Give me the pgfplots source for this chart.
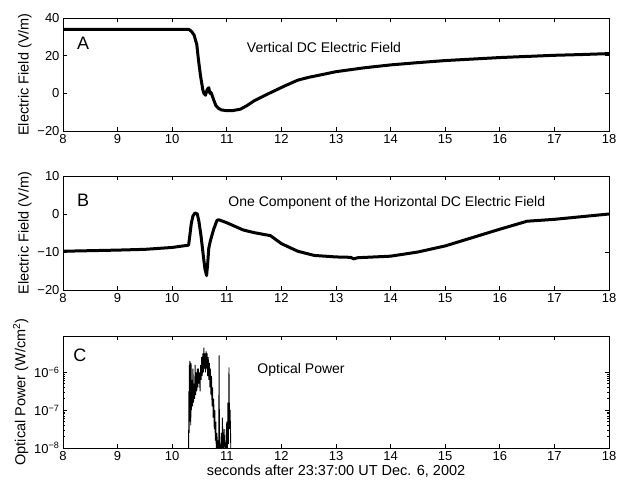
\documentclass[border=0pt]{standalone}
\usepackage{pgfplots}
\pgfplotsset{compat=1.18}
\usepackage{fontspec}
\setmainfont{Liberation Sans}
\begin{document}
\begin{tikzpicture}
\path[use as bounding box] (0pt,0pt) rectangle (617pt,-483pt);
\pgfplotsset{
  panel/.style={
    scale only axis, width=546pt,
    xmin=8, xmax=18, xtick={8,...,18},
    tick align=inside, tickpos=both,
    major tick length=4pt, minor tick length=2pt,
    tick style={black, line width=0.7pt},
    axis line style={line width=0.9pt},
    ticklabel style={font=\fontsize{13}{13}\selectfont},
    label style={font=\fontsize{14.5}{14.5}\selectfont},
    /pgf/number format/assume math mode=true,
    clip=true,
  }
}
% Panel A
\begin{axis}[panel, at={(63pt,-18pt)}, anchor=north west, height=113pt,
  ymin=-20, ymax=40, ytick={-20,0,20,40}, yticklabels={−20,0,20,40},
  ylabel={Electric Field (V/m)}, ylabel style={yshift=-1pt}]
\addplot[black, line width=3pt, line join=round] coordinates {
(8,34)(9,34)(10,34)(10.3,34)(10.35,33)(10.4,31)(10.45,26)(10.48,18)(10.52,9)(10.56,2)(10.58,0)(10.61,-1)(10.64,2)(10.67,3)(10.69,0)(10.71,0.5)(10.73,-1)(10.76,-3.5)(10.8,-6.5)(10.85,-8)(10.9,-8.8)(11.0,-9.2)(11.1,-9.2)(11.25,-8.4)(11.37,-6.5)(11.5,-4)(11.74,-0.5)(12.05,3.8)(12.3,7)(12.5,8.5)(12.72,9.8)(13,11.5)(13.5,13.5)(14,15.1)(14.5,16.3)(15,17.4)(15.5,18.2)(16,19)(16.5,19.6)(17,20.2)(17.5,20.6)(18,21.1)
};
\node[font=\fontsize{18}{18}\selectfont] at (rel axis cs:0.037,0.78) {A};
\node[font=\fontsize{14}{14}\selectfont] at (rel axis cs:0.478,0.735) {Vertical DC Electric Field};
\end{axis}
% Panel B
\begin{axis}[panel, at={(63pt,-176pt)}, anchor=north west, height=114pt,
  ymin=-20, ymax=10, ytick={-20,-10,0,10}, yticklabels={−20,−10,0,10},
  ylabel={Electric Field (V/m)}, ylabel style={yshift=-1pt}]
\addplot[black, line width=3pt, line join=round] coordinates {
(8,-9.8)(9,-9.5)(9.5,-9.3)(10,-8.8)(10.2,-8.4)(10.3,-8.2)(10.32,-6)(10.35,-2.5)(10.38,-0.5)(10.42,0.3)(10.46,0)(10.49,-2)(10.53,-6)(10.57,-11)(10.6,-14.5)(10.63,-16.2)(10.65,-13)(10.67,-9)(10.7,-7)(10.76,-4)(10.82,-1.7)(10.85,-1.5)(11,-2.3)(11.3,-4.2)(11.5,-4.9)(11.8,-5.7)(12,-7.8)(12.3,-9.8)(12.6,-10.9)(13,-11.3)(13.27,-11.4)(13.32,-11.8)(13.4,-11.5)(14,-11.1)(14.5,-10)(15,-8.4)(15.5,-6.2)(16,-4)(16.5,-1.9)(17,-1.4)(17.5,-0.7)(18,0)
};
\node[font=\fontsize{18}{18}\selectfont] at (rel axis cs:0.037,0.79) {B};
\node[font=\fontsize{14}{14}\selectfont] at (rel axis cs:0.593,0.763) {One Component of the Horizontal DC Electric Field};
\end{axis}
% Panel C
\begin{axis}[panel, at={(63pt,-336pt)}, anchor=north west, height=112pt,
  ymode=log, ymin=1e-8, ymax=9.1e-6, ytick={1e-8,1e-7,1e-6},
  yticklabels={10\textsuperscript{−8},10\textsuperscript{−7},10\textsuperscript{−6}},
  ylabel={Optical Power (W/cm\textsuperscript{2})}, ylabel style={yshift=-1pt},
  xlabel={seconds after 23:37:00 UT Dec. 6, 2002}, xlabel style={yshift=3pt}]
\addplot[black, line width=0.9pt] coordinates {
(10.30,5e-9)(10.305,3.16e-7)(10.31,2.51e-8)(10.315,1.58e-6)(10.32,5.01e-8)(10.325,2.0e-6)(10.33,6.31e-8)(10.335,5.01e-7)(10.34,3.98e-8)(10.345,1.78e-6)(10.35,1e-7)(10.36,6.31e-7)(10.37,1.26e-7)(10.38,1.26e-6)(10.39,1.58e-7)(10.40,5.01e-7)(10.41,2.0e-7)(10.42,1.58e-6)(10.43,2.51e-7)(10.44,1e-6)(10.45,3.16e-7)(10.46,1.26e-6)(10.47,3.98e-7)(10.48,1.26e-6)(10.49,5.01e-7)(10.50,1e-6)(10.51,3.16e-7)(10.52,1.58e-6)(10.53,6.31e-7)(10.54,2.51e-6)(10.55,7.94e-7)(10.56,3.16e-6)(10.57,1e-6)(10.58,4.47e-6)(10.59,1.26e-6)(10.60,3.16e-6)(10.61,1e-6)(10.62,3.55e-6)(10.63,1.26e-6)(10.64,3.16e-6)(10.65,7.94e-7)(10.66,2.51e-6)(10.67,6.31e-7)(10.68,1.78e-6)(10.69,3.98e-7)(10.70,1.26e-6)(10.71,2.51e-7)(10.72,7.94e-7)(10.73,1.26e-7)(10.74,3.98e-7)(10.75,6.31e-8)(10.76,2.0e-7)(10.77,3.16e-8)(10.78,1e-7)(10.79,1.58e-8)(10.80,5.01e-8)(10.81,5e-9)(10.82,2.51e-8)(10.83,5e-9)(10.84,1.58e-8)(10.85,5e-9)(10.86,2.82e-6)(10.865,5e-9)(10.87,1.26e-8)(10.88,5e-9)(10.90,2.51e-8)(10.91,5e-9)(10.92,6.31e-8)(10.93,5e-9)(10.95,3.16e-8)(10.97,5e-9)(10.99,2.51e-8)(11.0,5.01e-8)(11.01,5e-9)(11.02,1.58e-7)(11.03,1.26e-8)(11.04,1.35e-6)(11.05,3.16e-8)(11.06,1e-7)(11.07,2e-8)(11.075,5e-9)
};
\node[font=\fontsize{18}{18}\selectfont] at (rel axis cs:0.031,0.83) {C};
\node[font=\fontsize{14}{14}\selectfont] at (rel axis cs:0.436,0.70) {Optical Power};
\end{axis}
\end{tikzpicture}
\end{document}
